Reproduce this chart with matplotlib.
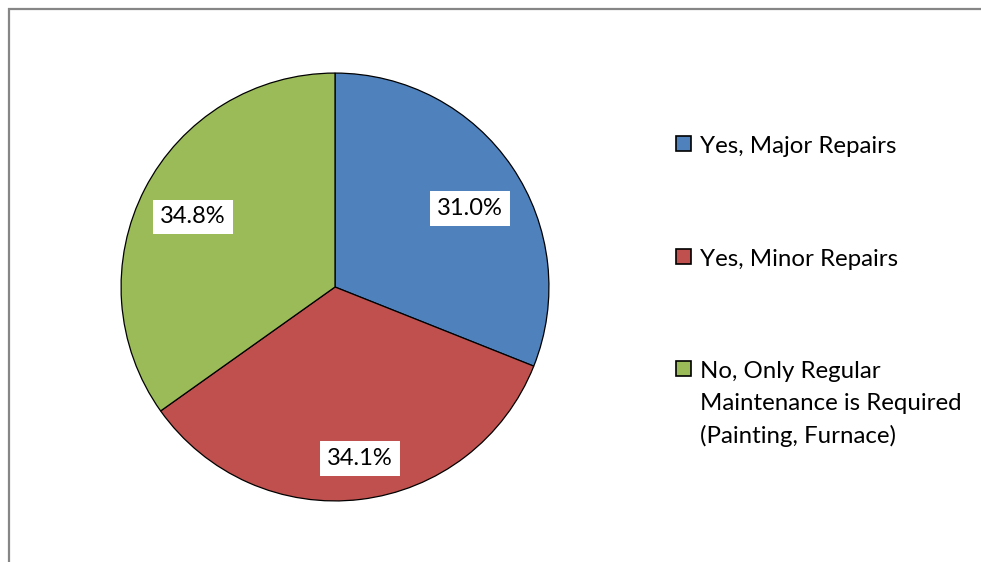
import matplotlib.pyplot as plt
import matplotlib.patches as mpatches
import numpy as np

plt.rcParams['font.family'] = ['Lato', 'DejaVu Sans']

categories = ['Yes, Major Repairs', 'Yes, Minor Repairs',
              'No, Only Regular\nMaintenance is Required\n(Painting, Furnace)']
values = [31.0, 34.1, 34.8]
value_labels = ['31.0%', '34.1%', '34.8%']
colors = ['#4F81BD', '#C0504D', '#9BBB59']
# label placement: distance from centre (in radii) and nudge from mid-angle (deg)
label_dist = [0.73, 0.81, 0.74]
label_nudge = [-4, 1.5, 1]

W, H = 981, 562
fig = plt.figure(figsize=(W / 100, H / 100), dpi=100)

# outer chart frame (runs off the right and bottom edges)
frame = mpatches.Rectangle((9 / W, -0.2), 1.2, 1.2 - 9 / H,
                           transform=fig.transFigure, fill=False,
                           edgecolor='#868686', linewidth=1.6, clip_on=False)
fig.patches.append(frame)

cx, cy, r = 335, 287, 215
ax = fig.add_axes([(cx - r) / W, (H - cy - r) / H, 2 * r / W, 2 * r / H])
wedges, _ = ax.pie(values, colors=colors, startangle=90, counterclock=False,
                   wedgeprops=dict(edgecolor='black', linewidth=0.9))
ax.set_xlim(-1.005, 1.005)
ax.set_ylim(-1.005, 1.005)
ax.set_aspect('equal')

for w, lab, d, nd in zip(wedges, value_labels, label_dist, label_nudge):
    ang = np.deg2rad((w.theta1 + w.theta2) / 2 + nd)
    ax.text(d * np.cos(ang), d * np.sin(ang), lab, ha='center', va='center',
            fontsize=17, color='black',
            bbox=dict(facecolor='white', edgecolor='none', pad=5))

# legend drawn by hand so the square lines up with the first text line
leg_x, leg_y, leg_step = 676, 152, 112.5   # leg_y = first baseline
for i, (cat, col) in enumerate(zip(categories, colors)):
    y = leg_y + i * leg_step
    sq = mpatches.Rectangle((leg_x / W, 1 - (y - 1) / H), 15 / W, 15 / H,
                            transform=fig.transFigure, facecolor=col,
                            edgecolor='black', linewidth=1.2)
    fig.patches.append(sq)
    fig.text((leg_x + 24) / W, 1 - (y - 16) / H, cat, ha='left', va='top',
             fontsize=17.3, linespacing=1.63)

fig.savefig('out.png', dpi=100)
